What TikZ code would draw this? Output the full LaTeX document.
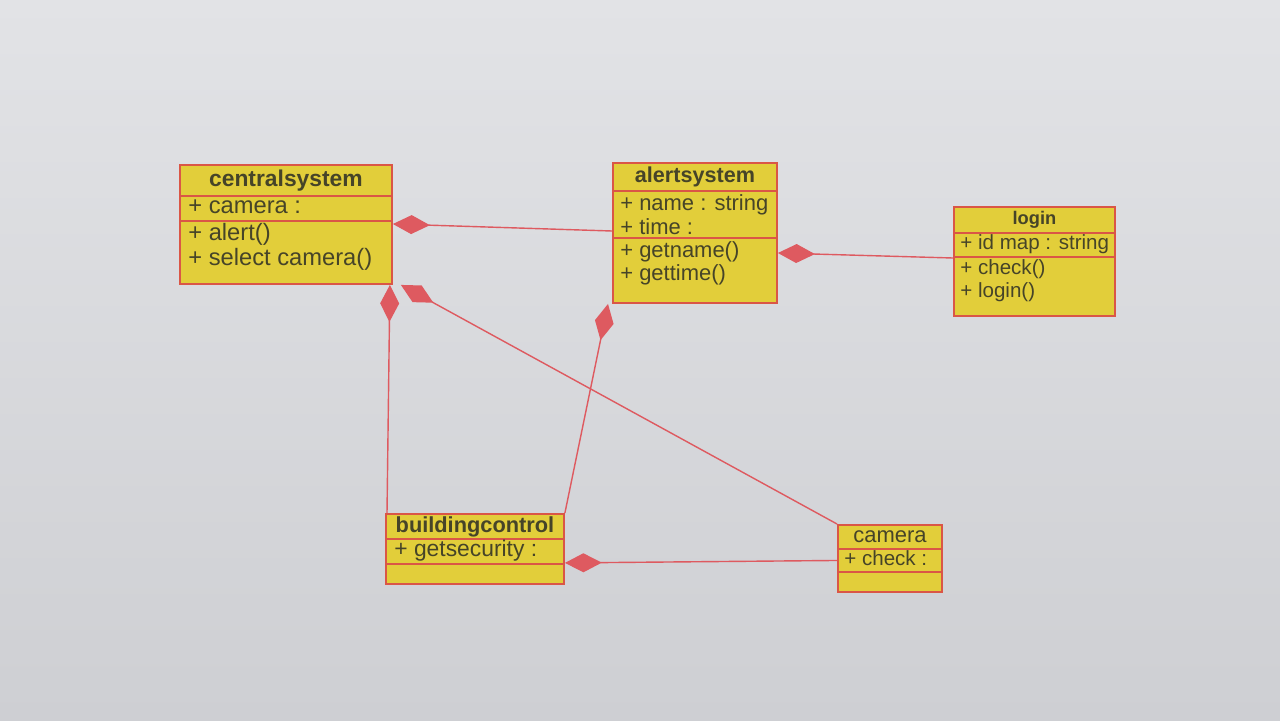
\documentclass[tikz,border=0pt]{standalone}
\usepackage{fontspec}
\setmainfont{Liberation Sans}
\usetikzlibrary{arrows.meta}
\definecolor{boxfill}{RGB}{226,206,58}
\definecolor{boxline}{RGB}{218,86,70}
\definecolor{txtcol}{RGB}{70,68,40}
\definecolor{linkcol}{RGB}{222,90,96}
\definecolor{bgtop}{RGB}{226,227,230}
\definecolor{bgbot}{RGB}{206,207,211}
\begin{document}
\begin{tikzpicture}[x=0.02cm,y=-0.02cm,
  comp/.style={draw=boxline, fill=boxfill, line width=1.1pt, anchor=north west, inner sep=0pt},
  ttl/.style={comp, align=center, text=txtcol},
  lbl/.style={inner sep=0pt, align=left, text=txtcol},
  link/.style={draw=linkcol, line width=0.8pt},
  dia/.style={link, {Diamond[length=0.74cm,width=0.38cm,fill=linkcol]}-}
]
\fill[top color=bgtop, bottom color=bgbot] (0,0) rectangle (1280,720);
\useasboundingbox (0,0) rectangle (1280,720);

% centralsystem
\node[ttl, text width=4.24cm, minimum height=0.62cm, font=\bfseries\fontsize{13}{14}\selectfont] (csT) at (179,164) {centralsystem};
\node[comp, minimum width=4.24cm, minimum height=0.5cm] (csA) at (179,195) {};
\node[comp, minimum width=4.24cm, minimum height=1.26cm] (csM) at (179,220) {};
\node[lbl, anchor=west, font=\fontsize{13.5}{14}\selectfont] (csAt) at ([xshift=0.18cm]csA.west) {\strut+ camera :};
\node[lbl, anchor=north west, font=\fontsize{13.5}{14.2}\selectfont] (csMt) at ([xshift=0.18cm,yshift=-0.06cm]csM.north west) {\strut+ alert()\\+ select camera()};

% alertsystem
\node[ttl, text width=3.28cm, minimum height=0.56cm, font=\bfseries\fontsize{12.3}{14}\selectfont] (asT) at (612,162) {alertsystem};
\node[comp, minimum width=3.28cm, minimum height=0.94cm] (asA) at (612,190) {};
\node[comp, minimum width=3.28cm, minimum height=1.3cm] (asM) at (612,237) {};
\node[lbl, anchor=west, font=\fontsize{12.5}{12.8}\selectfont] (asAt) at ([xshift=0.16cm]asA.west) {\strut+ name : string\\+ time :};
\node[lbl, anchor=north west, font=\fontsize{12.5}{13.6}\selectfont] (asMt) at ([xshift=0.16cm,yshift=-0.06cm]asM.north west) {\strut+ getname()\\+ gettime()};

% login
\node[ttl, text width=3.22cm, minimum height=0.52cm, font=\bfseries\fontsize{10.4}{12}\selectfont] (lgT) at (953,206) {login};
\node[comp, minimum width=3.22cm, minimum height=0.48cm] (lgA) at (953,232) {};
\node[comp, minimum width=3.22cm, minimum height=1.18cm] (lgM) at (953,256) {};
\node[lbl, anchor=west, font=\fontsize{11.7}{13}\selectfont] (lgAt) at ([xshift=0.14cm]lgA.west) {\strut+ id map : string};
\node[lbl, anchor=north west, font=\fontsize{11.7}{13}\selectfont] (lgMt) at ([xshift=0.14cm,yshift=-0.04cm]lgM.north west) {\strut+ check()\\+ login()};

% buildingcontrol
\node[ttl, text width=3.56cm, minimum height=0.5cm, font=\bfseries\fontsize{12.4}{14}\selectfont] (bcT) at (385,513) {buildingcontrol};
\node[comp, minimum width=3.56cm, minimum height=0.5cm] (bcA) at (385,538) {};
\node[comp, minimum width=3.56cm, minimum height=0.4cm] (bcM) at (385,563) {};
\node[lbl, anchor=west, font=\fontsize{13}{14}\selectfont] (bcAt) at ([xshift=0.18cm]bcA.west) {\strut+ getsecurity :};

% camera
\node[ttl, text width=2.08cm, minimum height=0.48cm, font=\fontsize{12.5}{14}\selectfont] (caT) at (837,524) {camera};
\node[comp, minimum width=2.08cm, minimum height=0.46cm] (caA) at (837,548) {};
\node[comp, minimum width=2.08cm, minimum height=0.4cm] (caM) at (837,571) {};
\node[lbl, anchor=west, font=\fontsize{11.7}{13}\selectfont] (caAt) at ([xshift=0.14cm]caA.west) {\strut+ check :};

% connectors
\draw[dia] ([yshift=-0.08cm]csM.north east) -- ([yshift=0.12cm]asM.north west);
\draw[dia] ([yshift=-0.32cm]asM.north east) -- ([yshift=-0.04cm]lgM.north west);
\draw[dia] ([xshift=-0.06cm]csM.south east) -- ([xshift=0.04cm]bcT.north west);
\draw[dia] ([xshift=0.16cm]csM.south east) -- (caT.north west);
\draw[dia] ([xshift=-0.08cm]asM.south west) -- (bcT.north east);
\draw[dia] ([yshift=0.04cm]bcA.south east) -- (caA.west);
\end{tikzpicture}
\end{document}
